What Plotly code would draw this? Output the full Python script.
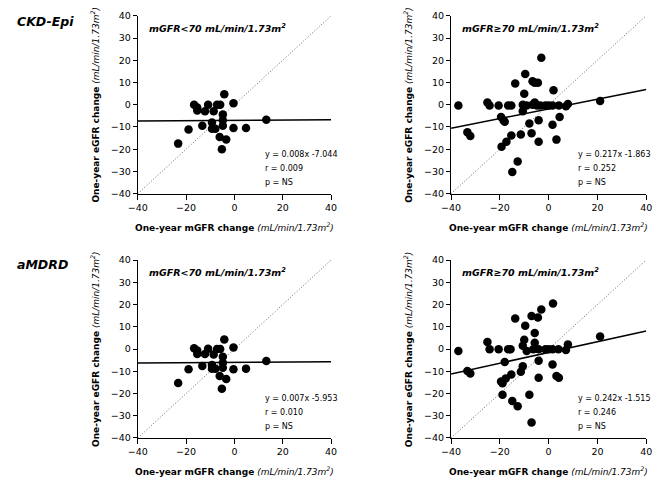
import plotly.graph_objects as go

FONT = "DejaVu Sans"
AXIS_RANGE = [-40, 40]
X_TICKS = [-40, -20, 0, 20, 40]
Y_TICKS = [-40, -30, -20, -10, 0, 10, 20, 30, 40]

# mGFR < 70 group (one-year mGFR change)
low_mgfr = [-16.7, -15.4, -15.4, -12.2, -10.9, -8.6, -7.2, -5.9, -4.2, -0.4, -4.8, -4.8, -4.8,
            -9.3, -13.3, -19.0, -9.3, -7.9, -0.4, 4.8, 13.2, -6.1, -3.4, -5.2, -23.3]
low_egfr_ckd = [0.0, -1.2, -2.6, -2.9, 0.0, -2.9, 0.0, 0.0, 4.7, 0.7, -4.4, -7.0, -9.5,
                -8.0, -9.5, -11.2, -10.8, -10.8, -10.5, -10.5, -6.8, -14.5, -15.6, -20.0, -17.5]
low_egfr_mdrd = [0.4, -0.6, -2.2, -2.2, 0.1, -2.5, 0.0, 0.0, 4.3, 0.7, -3.5, -6.2, -8.4,
                 -7.2, -7.6, -9.1, -8.8, -8.8, -9.1, -8.8, -5.4, -12.1, -13.5, -17.9, -15.3]

# mGFR >= 70 group, CKD-Epi panel
high_mgfr_ckd = [-37.0, -33.3, -32.1, -25.1, -24.2, -20.5, -19.5, -18.5, -18.0, -16.6, -15.3,
                 -19.3, -17.3, -15.3, -13.7, -14.9, -12.7, -11.4, -10.6, -10.6, -10.0, -9.6,
                 -9.0, -7.9, -7.0, -6.6, -6.6, -5.7, -5.7, -4.8, -4.4, -4.1, -4.1, -3.0,
                 -3.4, -1.3, 0.0, 1.6, 1.6, 2.0, 3.2, 4.2, 4.5, 7.1, 7.9, 21.1]
high_egfr_ckd = [-0.3, -12.4, -14.1, 1.0, -0.3, -0.3, -5.5, -7.0, -7.7, -0.3, -0.3,
                 -18.9, -16.7, -13.8, 9.5, -30.3, -25.5, -13.4, -2.9, 0.0, 4.9, 13.8,
                 -0.3, -8.4, -12.8, 0.0, 10.5, 9.9, 1.0, -0.3, 9.9, -7.0, -16.7, 21.1,
                 -0.3, -0.3, -0.3, -0.3, -9.0, 6.5, -15.7, -0.3, -5.5, -0.7, 0.3, 1.7]

# mGFR >= 70 group, aMDRD panel
high_mgfr_mdrd = [-37.0, -33.3, -32.1, -25.1, -24.2, -20.5, -18.0, -19.5, -18.9, -17.6, -16.6,
                  -15.6, -15.3, -18.9, -14.9, -12.7, -13.7, -11.4, -10.6, -10.6, -10.0, -9.6,
                  -9.0, -7.9, -7.0, -7.0, -6.3, -5.7, -5.7, -4.4, -4.1, -4.1, -4.1, -3.0,
                  -1.3, 0.0, 1.6, 1.8, 1.6, 3.2, 4.2, 4.0, 7.1, 7.9, 21.1]
high_egfr_mdrd = [-0.9, -9.9, -11.0, 3.2, -0.1, -0.1, -5.8, -14.6, -15.4, -13.2, -0.1,
                  -0.1, -11.4, -20.5, -23.4, -25.7, 13.7, -10.2, -7.7, 1.5, 4.2, 10.5,
                  -0.9, -20.5, -33.0, 14.9, -0.1, 7.2, 2.8, 14.2, -5.3, -12.9, -0.1, 17.8,
                  -0.1, -0.1, -0.1, 20.5, -7.0, -12.1, -12.9, -0.1, -0.4, 2.0, 5.7]

# regression fits (slope, intercept) and stats text
fit_slopes = [0.008, 0.217, 0.007, 0.242]
fit_intercepts = [-7.044, -1.863, -5.953, -1.515]
fit_eq_text = ["y = 0.008x -7.044", "y = 0.217x -1.863", "y = 0.007x -5.953", "y = 0.242x -1.515"]
r_text = ["r = 0.009", "r = 0.252", "r = 0.010", "r = 0.246"]
p_text = ["p = NS", "p = NS", "p = NS", "p = NS"]
panel_titles = ["mGFR&lt;70 mL/min/1.73m<sup>2</sup>", "mGFR≥70 mL/min/1.73m<sup>2</sup>",
                "mGFR&lt;70 mL/min/1.73m<sup>2</sup>", "mGFR≥70 mL/min/1.73m<sup>2</sup>"]
row_labels = ["CKD-Epi", "aMDRD"]
x_title = "<b>One-year mGFR change</b> <i>(mL/min/1.73m<sup>2</sup>)</i>"
y_title = "<b>One-year eGFR change</b> <i>(mL/min/1.73m<sup>2</sup>)</i>"

panels_x = [low_mgfr, high_mgfr_ckd, low_mgfr, high_mgfr_mdrd]
panels_y = [low_egfr_ckd, high_egfr_ckd, low_egfr_mdrd, high_egfr_mdrd]

W, H = 661, 486
# pixel boxes of plot areas: (left, right, top, bottom)
boxes = [(131, 329, 10, 192), (452, 652, 10, 192), (131, 329, 260, 442), (452, 652, 260, 442)]

fig = go.Figure()
layout = dict(width=W, height=H, margin=dict(l=0, r=0, t=0, b=0),
              paper_bgcolor="white", plot_bgcolor="white", showlegend=False,
              font=dict(family=FONT, color="black", size=10))
annotations = []

for i in range(4):
    n = "" if i == 0 else str(i + 1)
    xa, ya = "x" + n, "y" + n
    l, r, t, b = boxes[i]
    layout["xaxis" + n] = dict(domain=[l / W, r / W], anchor=ya, range=AXIS_RANGE,
                               tickvals=X_TICKS, showgrid=False, zeroline=False,
                               showline=True, linecolor="black", linewidth=1.2,
                               ticks="outside", ticklen=5, tickcolor="black",
                               tickfont=dict(size=9.5, family=FONT))
    layout["yaxis" + n] = dict(domain=[(H - b) / H, (H - t) / H], anchor=xa, range=AXIS_RANGE,
                               tickvals=Y_TICKS, showgrid=False, zeroline=False,
                               showline=True, linecolor="black", linewidth=1.2,
                               ticks="outside", ticklen=4, tickcolor="black",
                               tickfont=dict(size=9.5, family=FONT))
    # identity line
    fig.add_trace(go.Scatter(x=AXIS_RANGE, y=AXIS_RANGE, mode="lines", xaxis=xa, yaxis=ya,
                             line=dict(color="#666666", width=1, dash="1px,2px"),
                             hoverinfo="skip"))
    # regression line
    fig.add_trace(go.Scatter(x=AXIS_RANGE,
                             y=[fit_slopes[i] * v + fit_intercepts[i] for v in AXIS_RANGE],
                             mode="lines", xaxis=xa, yaxis=ya,
                             line=dict(color="black", width=1.5), hoverinfo="skip"))
    # points
    fig.add_trace(go.Scatter(x=panels_x[i], y=panels_y[i], mode="markers", xaxis=xa, yaxis=ya,
                             marker=dict(color="black", size=8.5)))
    pw, ph = r - l, b - t
    xd, yd = xa + " domain", ya + " domain"
    annotations.append(dict(xref=xd, yref=yd, x=9 / pw, y=(ph - 12) / ph,
                            text="<b><i>" + panel_titles[i] + "</i></b>", showarrow=False,
                            xanchor="left", yanchor="middle", font=dict(size=9.5)))
    for k, txt in enumerate([fit_eq_text[i], r_text[i], p_text[i]]):
        annotations.append(dict(xref=xd, yref=yd, x=128 / pw,
                                y=(41 - 14.5 * k) / 184, text=txt, showarrow=False,
                                xanchor="left", yanchor="middle", font=dict(size=8)))
    annotations.append(dict(xref=xd, yref=yd, x=0.5, y=-34 / ph, text=x_title, showarrow=False,
                            xanchor="center", yanchor="middle", font=dict(size=9)))
    annotations.append(dict(xref=xd, yref=yd, x=-44 / pw, y=0.5, text=y_title, showarrow=False,
                            textangle=-90, xanchor="center", yanchor="middle",
                            font=dict(size=9)))

for j, lab in enumerate(row_labels):
    annotations.append(dict(xref="paper", yref="paper", x=5 / W, y=1 - (16 + 248 * j) / H,
                            text="<b><i>" + lab + "</i></b>", showarrow=False,
                            xanchor="left", yanchor="middle", font=dict(size=12.5)))

layout["annotations"] = annotations
fig.update_layout(**layout)
fig.write_html("out.html", config={"displayModeBar": False},
               post_script="document.body.style.margin='0';document.body.style.overflow='hidden';")
